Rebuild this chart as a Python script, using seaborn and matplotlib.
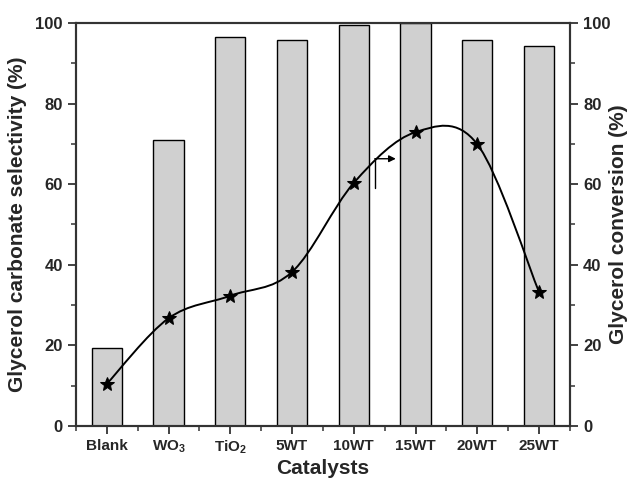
import numpy as np
import pandas as pd
import matplotlib
matplotlib.use("Agg")
import matplotlib.pyplot as plt
from matplotlib.path import Path
from matplotlib.patches import PathPatch
from matplotlib.ticker import MultipleLocator
import seaborn as sns

# ---------- data ----------
catalysts = ["Blank", "WO$_3$", "TiO$_2$", "5WT", "10WT", "15WT", "20WT", "25WT"]
selectivity = [19.3, 71.0, 96.5, 95.7, 99.4, 100.0, 95.7, 94.2]
conversion = [10.4, 26.7, 32.3, 38.2, 60.3, 72.9, 69.9, 33.2]

# ---------- style ----------
sns.set_style("ticks")
plt.rcParams["font.family"] = ["Liberation Sans", "DejaVu Sans"]
plt.rcParams["font.weight"] = "bold"
plt.rcParams["mathtext.fontset"] = "custom"
plt.rcParams["mathtext.rm"] = "Liberation Sans:bold"
plt.rcParams["mathtext.bf"] = "Liberation Sans:bold"
plt.rcParams["mathtext.default"] = "bf"

SPINE = "#333333"


def smooth_path(xs, ys):
    # Catmull-Rom style curve handed to matplotlib as cubic bezier segments
    pts = np.column_stack([xs, ys]).astype(float)
    n = len(pts)
    verts = [pts[0]]
    codes = [Path.MOVETO]
    for i in range(n - 1):
        p0 = pts[i - 1] if i > 0 else pts[i]
        p1 = pts[i]
        p2 = pts[i + 1]
        p3 = pts[i + 2] if i + 2 < n else pts[i + 1]
        c1 = p1 + (p2 - p0) / 6.0
        c2 = p2 - (p3 - p1) / 6.0
        verts += [c1, c2, p2]
        codes += [Path.CURVE4] * 3
    return Path(verts, codes)


df = pd.DataFrame({"cat": catalysts, "sel": selectivity, "conv": conversion})
xpos = np.arange(len(catalysts))

fig = plt.figure(figsize=(6.27, 4.78), dpi=100)
ax = fig.add_axes([0.121, 0.109, 0.788, 0.843])

sns.barplot(data=df, x="cat", y="sel", color="#d0d0d0", edgecolor="black",
            linewidth=1.0, width=0.49, saturation=1, ax=ax, zorder=2)
ax.set_xlim(-0.5, len(catalysts) - 0.5)
ax.set_ylim(0, 100)

ax2 = ax.twinx()
ax2.set_ylim(0, 100)
ax2.add_patch(PathPatch(smooth_path(xpos, conversion), facecolor="none",
                        edgecolor="black", linewidth=1.4, zorder=3))
sns.lineplot(x=xpos, y=conversion, ax=ax2, linestyle="none", marker="*",
             markersize=10.5, color="black", markeredgecolor="black", zorder=4)

# arrow pointing to the conversion axis
ax2.annotate("", xy=(4.68, 66.3), xytext=(4.34, 66.3),
             arrowprops=dict(arrowstyle="-|>", color="black", lw=1.0,
                             mutation_scale=10, shrinkA=0, shrinkB=0))
ax2.plot([4.34, 4.34], [59.0, 66.3], color="black", lw=1.0)

ax.set_xlabel("Catalysts", fontsize=15, fontweight="bold", labelpad=2)
ax.set_ylabel("Glycerol carbonate selectivity (%)", fontsize=15,
              fontweight="bold", labelpad=6)
ax2.set_ylabel("Glycerol conversion (%)", fontsize=15, fontweight="bold",
               rotation=90, labelpad=-1)

for a in (ax, ax2):
    a.yaxis.set_major_locator(MultipleLocator(20))
    a.yaxis.set_minor_locator(MultipleLocator(10))
    for s in a.spines.values():
        s.set_linewidth(1.5)
        s.set_color(SPINE)
        s.set_visible(True)
    a.tick_params(which="major", direction="out", length=6, width=1.3,
                  color=SPINE, labelsize=12)
    a.tick_params(which="minor", direction="out", length=3.5, width=1.1,
                  color=SPINE)

ax.xaxis.set_minor_locator(MultipleLocator(1, offset=0.5))
ax.tick_params(axis="x", which="minor", length=3.5)
ax.tick_params(axis="x", which="major", labelsize=11)
ax.set_xticks(xpos)
ax.set_xticklabels(catalysts, fontweight="bold")
for lab in ax.get_yticklabels() + ax2.get_yticklabels():
    lab.set_fontweight("bold")

fig.savefig("out.png", dpi=100)
